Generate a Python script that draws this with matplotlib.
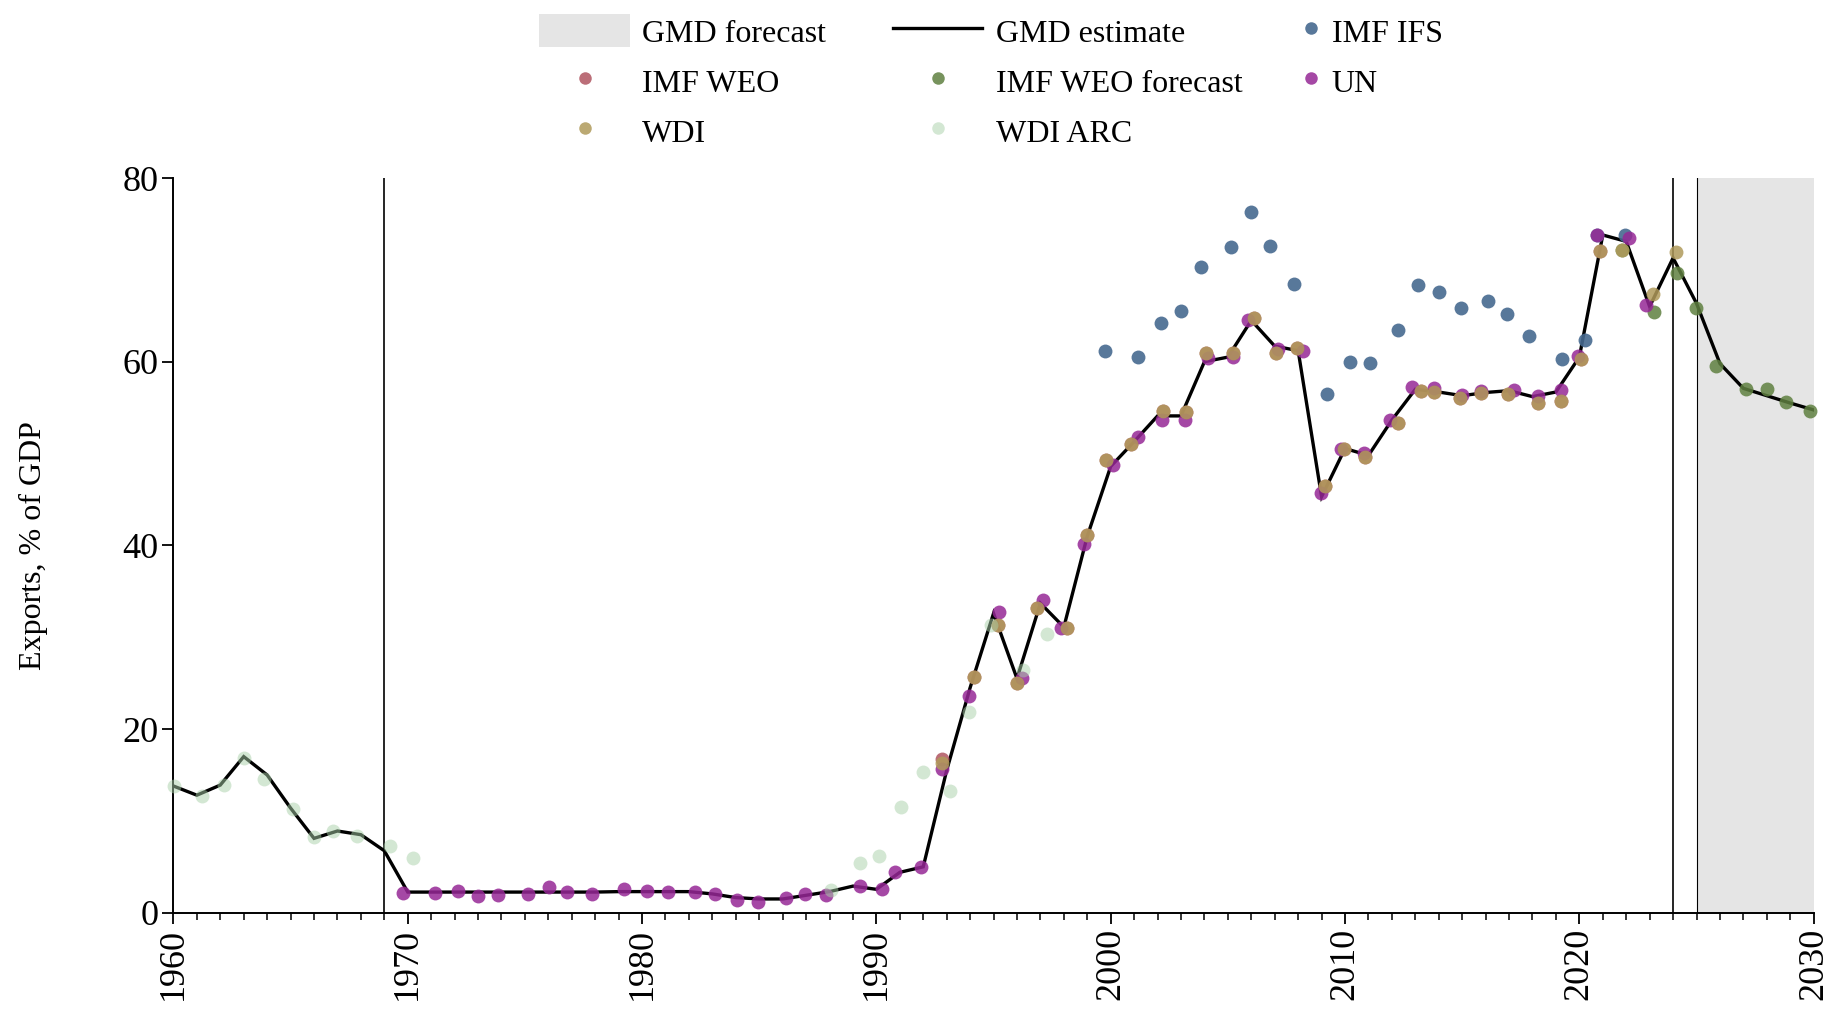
import matplotlib
matplotlib.use("Agg")
import matplotlib.pyplot as plt
from matplotlib.lines import Line2D
from matplotlib.patches import Patch
import numpy as np

plt.rcParams['font.family'] = ['Liberation Serif', 'DejaVu Serif']

# ---------------- data ----------------
gmd_years = list(range(1960, 2031))
gmd_values = [13.8, 12.8, 13.9, 17.0, 15.0, 11.4, 8.1, 8.9, 8.5, 6.75,
              2.25, 2.25, 2.25, 2.25, 2.25, 2.25, 2.25, 2.25, 2.25, 2.3,
              2.3, 2.3, 2.3, 2.05, 1.65, 1.5, 1.5, 1.9, 2.3, 2.9,
              2.55, 4.4, 5.0, 15.5, 24.5, 32.6, 25.5, 33.7, 31.1, 41.0,
              48.6, 51.3, 54.1, 54.1, 60.0, 60.5, 64.5, 61.7, 61.2, 45.3,
              50.55, 49.8, 53.65, 57.0, 56.7, 56.3, 56.65, 56.85, 56.2, 56.7,
              60.5, 73.8, 73.1, 66.0, 71.3, 66.35, 59.8, 57.1, 56.3, 55.5,
              54.75]

ifs_x = [1999.77, 2001.18, 2002.15, 2002.99, 2003.84, 2005.12, 2006.0, 2006.8,
         2007.84, 2009.24, 2010.23, 2011.08, 2012.25, 2013.1, 2014.03, 2014.95,
         2016.12, 2016.93, 2017.84, 2019.25, 2020.25, 2020.77, 2021.93]
ifs_y = [61.16, 60.5, 64.2, 65.5, 70.3, 72.45, 76.25, 72.6, 68.45, 56.5, 60.0,
         59.9, 63.4, 68.4, 67.55, 65.8, 66.6, 65.2, 62.8, 60.3, 62.4, 73.8, 73.8]

wdi_x = [1992.79, 1994.18, 1995.21, 1995.99, 1996.84, 1998.12, 1999.0, 1999.8,
         2000.86, 2002.22, 2003.22, 2004.07, 2005.24, 2006.11, 2007.05, 2007.97,
         2009.14, 2009.96, 2010.86, 2012.28, 2013.25, 2013.78, 2014.92, 2015.79,
         2016.95, 2018.25, 2019.22, 2020.06, 2020.89, 2021.81, 2023.13, 2024.13]
wdi_y = [16.3, 25.7, 31.3, 25.0, 33.2, 31.0, 41.1, 49.35, 51.0, 54.6, 54.55,
         60.9, 61.0, 64.8, 60.9, 61.5, 46.5, 50.55, 49.65, 53.3, 56.85, 56.7,
         56.1, 56.55, 56.5, 55.5, 55.75, 60.3, 72.1, 72.2, 67.4, 71.9]

weo_x = wdi_x[:29]
weo_y = [16.7] + wdi_y[1:29]

weof_x = [2021.81, 2023.18, 2024.16, 2024.98, 2025.84, 2027.12, 2028.0, 2028.8, 2029.85]
weof_y = [72.2, 65.45, 69.7, 65.8, 59.5, 57.0, 57.0, 55.65, 54.6]

un_x = [1969.8, 1971.18, 1972.16, 1972.99, 1973.84, 1975.12, 1976.02, 1976.81,
        1977.85, 1979.24, 1980.23, 1981.11, 1982.26, 1983.12, 1984.04, 1984.96,
        1986.15, 1986.96, 1987.83, 1989.28, 1990.23, 1990.8, 1991.9, 1992.82,
        1993.97, 1995.24, 1996.2, 1997.09, 1997.87, 1998.88, 2000.11, 2001.15,
        2002.19, 2003.19, 2004.17, 2005.21, 2005.85, 2007.16, 2008.22, 2008.98,
        2009.82, 2010.81, 2011.93, 2012.85, 2013.8, 2014.98, 2015.79, 2017.23,
        2018.23, 2019.22, 2019.96, 2020.77, 2022.1, 2022.86]
un_y = [2.2, 2.2, 2.36, 1.82, 1.93, 2.07, 2.76, 2.22, 2.04, 2.58, 2.36, 2.29,
        2.22, 2.0, 1.38, 1.13, 1.64, 2.04, 1.88, 2.9, 2.55, 4.4, 5.0, 15.6, 23.6,
        32.7, 25.6, 34.0, 31.0, 40.1, 48.75, 51.8, 53.65, 53.65, 60.4, 60.5, 64.5,
        61.4, 61.15, 45.75, 50.45, 50.1, 53.7, 57.2, 57.1, 56.4, 56.8, 56.9, 56.3,
        56.9, 60.65, 73.8, 73.5, 66.2]

arc_x = [1960.03, 1961.21, 1962.17, 1963.03, 1963.87, 1965.11, 1966.0, 1966.83,
         1967.84, 1969.24, 1970.24, 1988.08, 1989.28, 1990.12, 1991.04, 1991.98,
         1993.15, 1993.96, 1994.88, 1996.27, 1997.27]
arc_y = [13.8, 12.7, 13.9, 16.9, 14.6, 11.3, 8.3, 8.9, 8.4, 7.26, 5.95, 2.5,
         5.45, 6.2, 11.55, 15.3, 13.25, 21.9, 31.3, 26.4, 30.4]

vlines_years = [1969, 2024]
forecast_start, forecast_end = 2025, 2030

# ---------------- style ----------------
col_ifs = '#46698f'
col_weo = '#b05560'
col_weof = '#5f8040'
col_un = '#962896'
col_wdi = '#b09a5a'
col_arc = '#a8d0a8'
col_fc = '#e5e5e5'

fig = plt.figure(figsize=(18.37, 10.18), dpi=100)
ax = fig.add_axes([0.0944, 0.1034, 0.8929, 0.7217])

ax.axvspan(forecast_start, forecast_end, color=col_fc, lw=0, zorder=0)
for yr in vlines_years:
    ax.axvline(yr, color='black', lw=1.2, zorder=1)
ax.axvline(forecast_start, color='black', lw=0.8, zorder=1)

ax.plot(gmd_years, gmd_values, color='black', lw=2.4, zorder=2,
        solid_joinstyle='miter')

ms = 10
def pts(x, y, c, a, z):
    ax.plot(x, y, ls='none', marker='o', ms=ms, mew=0, color=c, alpha=a,
            zorder=z, clip_on=False)

pts(ifs_x, ifs_y, col_ifs, 0.9, 3)
pts(weo_x, weo_y, col_weo, 0.85, 4)
pts(weof_x, weof_y, col_weof, 0.85, 5)
pts(un_x, un_y, col_un, 0.85, 6)
pts(wdi_x, wdi_y, col_wdi, 0.85, 7)
pts(arc_x, arc_y, col_arc, 0.5, 8)

ax.set_xlim(1960, 2030)
ax.set_ylim(0, 80)
ax.set_xticks(range(1960, 2031, 10))
ax.set_xticks(range(1960, 2031, 1), minor=True)
ax.set_yticks(range(0, 81, 20))
for s in ['top', 'right']:
    ax.spines[s].set_visible(False)
for s in ['left', 'bottom']:
    ax.spines[s].set_linewidth(1.4)
ax.tick_params(axis='both', which='major', length=7.7, width=1.3,
               labelsize=26, pad=3)
ax.tick_params(axis='x', which='minor', length=4.8, width=1.1)
ax.tick_params(axis='x', which='major', labelrotation=90)
ax.set_ylabel('Exports, % of GDP', fontsize=23)
ax.yaxis.set_label_coords(-0.0765, 0.5)

# ---------------- legend ----------------
fs = 23
def mk(c, a):
    return Line2D([], [], ls='none', marker='o', ms=9, mew=0, color=c, alpha=a)

h1 = [Patch(facecolor=col_fc, edgecolor='none'), mk(col_weo, 0.85), mk(col_wdi, 0.85)]
l1 = ['GMD forecast', 'IMF WEO', 'WDI']
h2 = [Line2D([], [], color='black', lw=2.4), mk(col_weof, 0.85), mk(col_arc, 0.5)]
l2 = ['GMD estimate', 'IMF WEO forecast', 'WDI ARC']
h3 = [mk(col_ifs, 0.9), mk(col_un, 0.85)]
l3 = ['IMF IFS', 'UN']

top = 1 - 14.5 / 1018
common = dict(loc='upper left', frameon=False, fontsize=fs, borderpad=0,
              borderaxespad=0, handleheight=1.19, labelspacing=0.5,
              numpoints=1)
fig.legend(h1, l1, bbox_to_anchor=(539 / 1837, top),
           handlelength=2.85, handletextpad=0.38, **common)
fig.legend(h2, l2, bbox_to_anchor=(893 / 1837, top),
           handlelength=2.8, handletextpad=0.44, **common)
fig.legend(h3, l3, bbox_to_anchor=(1303 / 1837, top),
           handlelength=0.5, handletextpad=0.4, **common)

fig.savefig('out.png', dpi=100)
